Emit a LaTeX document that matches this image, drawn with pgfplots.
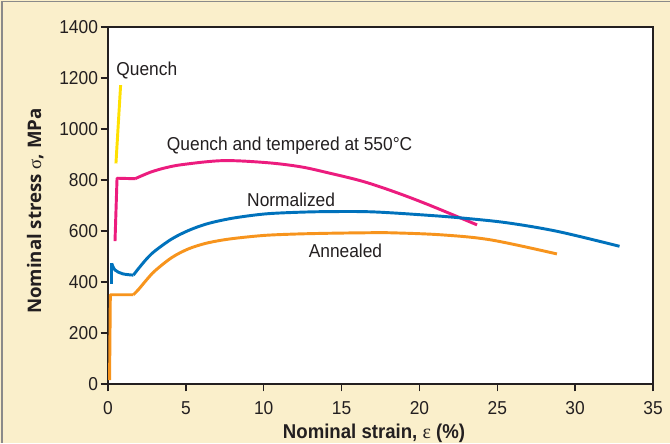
\documentclass[border=0pt]{standalone}
\usepackage{fontspec}
\setmainfont{Liberation Sans}[FakeStretch=0.93]
\newfontfamily\ylabfont{Open Sans}
\newfontfamily\greekfont{Liberation Serif}
\usepackage{pgfplots}
\pgfplotsset{compat=1.18}
\definecolor{cream}{HTML}{FAEFCB}
\definecolor{framegray}{HTML}{8A8A8A}
\definecolor{axdark}{HTML}{231F20}
\definecolor{qyellow}{HTML}{FFE000}
\definecolor{qpink}{HTML}{EC1C7E}
\definecolor{nblue}{HTML}{0072BC}
\definecolor{aorange}{HTML}{F7941D}
\begin{document}
\begin{tikzpicture}
\fill[cream] (0,0) rectangle (502.5pt,332.25pt);
\draw[framegray, line width=1.2pt] (1.5pt,0) -- (1.5pt,331.2pt) -- (502.5pt,331.2pt);
\begin{axis}[
  at={(81pt,44.25pt)}, anchor=south west,
  scale only axis, width=408.75pt, height=267.75pt,
  xmin=0, xmax=35, ymin=0, ymax=1400,
  xtick={0,5,...,35}, ytick={0,200,...,1400},
  axis background/.style={fill=white},
  axis line style={axdark, line width=1.1pt},
  tick style={axdark, line width=1.1pt},
  tick align=outside, xtick pos=bottom, ytick pos=left,
  major tick length=5.5pt,
  /pgf/number format/assume math mode=true,
  /pgf/number format/1000 sep={},
  ticklabel style={font=\fontsize{14}{16}\selectfont, text=axdark},
  xticklabel style={yshift=-4pt},
  yticklabel style={xshift=1.5pt},
  clip=false,
]
% Quench
\addplot[qyellow, line width=2.2pt] coordinates {(0.51,865) (0.81,1172)};
% Quench and tempered
\addplot[qpink, line width=2.2pt, line join=round] coordinates {(0.45,560) (0.58,807) (1.74,805)};
\addplot[qpink, line width=2.2pt, smooth, tension=0.55] coordinates {
(1.74,805) (2.7,830) (3.7,848) (4.85,861) (7.4,876) (10.2,868) (12.35,852) (14.08,829) (16.4,794) (18.56,750) (20.7,700) (23.7,624)};
% Normalized
\addplot[nblue, line width=2.2pt] coordinates {(0.24,393) (0.24,473)};
\addplot[nblue, line width=2.2pt, smooth, tension=0.55] coordinates {(0.24,473) (0.45,447) (0.95,432) (1.63,427)};
\addplot[nblue, line width=2.2pt, smooth, tension=0.55] coordinates {
(1.63,427) (1.95,452) (2.5,492) (3.02,522) (4.1,569) (5.17,602) (6.24,626) (7.3,642) (8.39,654) (10.1,667) (12,673) (14.08,676) (17,675) (20.7,661) (22.9,650) (25.65,632) (28.9,598) (32.85,540)};
% Annealed
\addplot[aorange, line width=2.2pt, line join=round] coordinates {(0.1,15) (0.15,350) (1.63,350)};
\addplot[aorange, line width=2.2pt, smooth, tension=0.55] coordinates {
(1.63,350) (1.95,370) (2.5,410) (3.02,444) (4.1,496) (5.17,530) (6.24,551) (7.3,564) (8.39,573) (10.1,583) (12,588) (14.08,591) (16.5,593) (18.15,593) (21.4,585) (24.6,565) (28.83,510)};
\node[anchor=west, text=axdark, font=\fontsize{14}{16}\selectfont, inner sep=0pt] at (axis cs:0.52,1231) {Quench};
\node[anchor=west, text=axdark, font=\fontsize{14}{16}\selectfont, inner sep=0pt] at (axis cs:3.77,933) {Quench and tempered at 550\textdegree C};
\node[text=axdark, font=\fontsize{14}{16}\selectfont, inner sep=0pt] at (axis cs:11.76,722) {Normalized};
\node[text=axdark, font=\fontsize{14}{16}\selectfont, inner sep=0pt] at (axis cs:15.25,521) {Annealed};
\end{axis}
\node[anchor=base, text=axdark, inner sep=0pt, font=\fontsize{15}{17}\selectfont\bfseries] at (280.5pt,3.75pt) {Nominal strain, {\greekfont\mdseries ε} (\%)};
\node[anchor=base, rotate=90, text=axdark, inner sep=0pt, font=\fontsize{14}{16}\selectfont\ylabfont\bfseries] at (30.75pt,174pt) {Nominal stress {\greekfont\mdseries σ}, MPa};
\pgfresetboundingbox
\path[use as bounding box] (0,0) rectangle (502.5pt,332.25pt);
\end{tikzpicture}
\end{document}
